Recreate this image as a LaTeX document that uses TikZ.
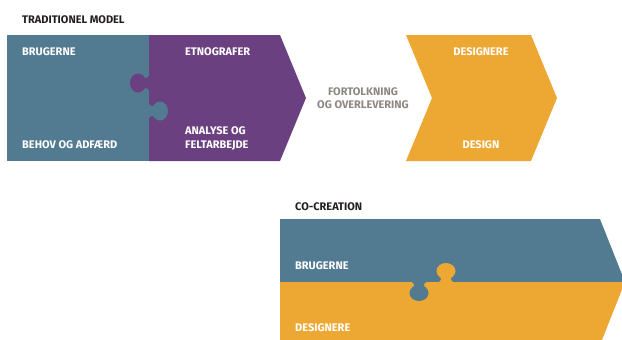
\documentclass[tikz,border=0pt]{standalone}
\usepackage{fontspec}
\setmainfont{Fira Sans}[BoldFont={Fira Sans Bold}]
\begin{document}
\begin{tikzpicture}[x=1pt,y=-1pt,
  lbl/.style={font=\bfseries\fontsize{11}{14}\selectfont, text=white, inner sep=0pt, anchor=base west},
  clbl/.style={lbl, anchor=base},
  ttl/.style={lbl, text=titlec},
  grey/.style={lbl, text=greyc, anchor=base, align=center, font=\bfseries\fontsize{11}{12.6}\selectfont}]
\definecolor{bluec}{RGB}{82,122,145}
\definecolor{purplec}{RGB}{107,64,128}
\definecolor{orangec}{RGB}{237,168,52}
\definecolor{greyc}{RGB}{140,135,130}
\definecolor{titlec}{RGB}{35,31,32}
% puzzle tab in local coordinates: base on the v-axis, protruding along u
\newcommand{\tabshape}{(-1,-7) -- (0,-7) .. controls (2,-4.5) and (4,-4) .. (5.5,-7)
  -- (5.5,7) .. controls (4,4) and (2,4.5) .. (0,7) -- (-1,7) -- cycle
  (11,0) ellipse [x radius=8, y radius=9.5]}
\useasboundingbox (0,0) rectangle (622,340);
\clip (0,0) rectangle (622,340);

% traditional model
\node[ttl] (t1) at (22,23.5) {TRADITIONEL MODEL};
\fill[bluec] (7,35) rectangle (149,161);
\fill[purplec] (149,35) -- (280,35) -- (306,98) -- (280,161) -- (149,161) -- cycle;
\begin{scope}[shift={(149,83)}, x={(-1pt,0)}, y={(0,-1pt)}]
  \fill[purplec, nonzero rule] \tabshape;
\end{scope}
\begin{scope}[shift={(149,111)}, x={(1pt,0)}, y={(0,-1pt)}]
  \fill[bluec, nonzero rule] \tabshape;
\end{scope}
\fill[orangec] (406,35) -- (531,35) -- (557,98) -- (531,161) -- (406,161) -- (432,98) -- cycle;

\node[lbl] (u1) at (22,55) {BRUGERNE};
\node[lbl] (u2) at (22,148) {BEHOV OG ADFÆRD};
\node[lbl] (e1) at (185,55) {ETNOGRAFER};
\node[lbl, align=left] (e2) at (185,148) {ANALYSE OG\\FELTARBEJDE};
\node[grey] (f1) at (363,108) {FORTOLKNING\\OG OVERLEVERING};
\node[clbl] (d1) at (481,55) {DESIGNERE};
\node[clbl] (d2) at (481,148) {DESIGN};

% co-creation
\node[ttl] (t2) at (295,210) {CO-CREATION};
\fill[bluec] (280,219) -- (600,219) -- (625,282) -- (280,282) -- cycle;
\fill[orangec] (280,282) -- (625,282) -- (600,345) -- (280,345) -- cycle;
\begin{scope}[shift={(446,282)}, x={(0,1pt)}, y={(1pt,0)}]
  \fill[orangec, nonzero rule] \tabshape;
\end{scope}
\begin{scope}[shift={(419,282)}, x={(0,-1pt)}, y={(1pt,0)}]
  \fill[bluec, nonzero rule] \tabshape;
\end{scope}
\node[lbl] (c1) at (295,269) {BRUGERNE};
\node[lbl] (c2) at (295,331) {DESIGNERE};
\end{tikzpicture}
\end{document}
